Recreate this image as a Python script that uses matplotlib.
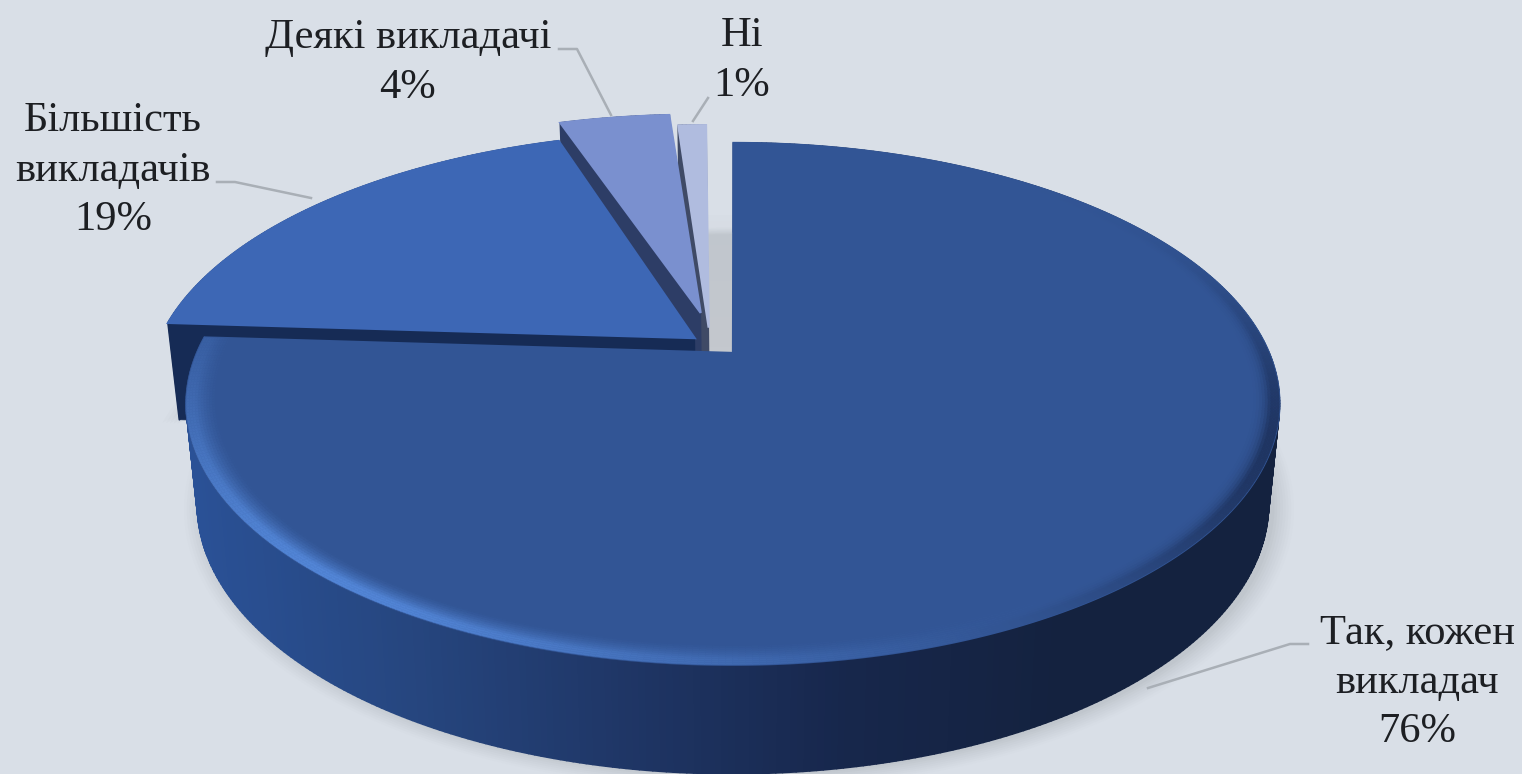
import numpy as np
import matplotlib
matplotlib.use("Agg")
import matplotlib.pyplot as plt
from matplotlib.collections import PolyCollection
from matplotlib.colors import LinearSegmentedColormap, to_rgb

# Дані діаграми
categories = ["Так, кожен\nвикладач", "Більшість\nвикладачів", "Деякі викладачі", "Ні"]
values = [76, 19, 4, 1]

# вигляд секторів
top_colors = ["#325595", "#3d67b5", "#7a90cf", "#b0bcdf"]
side_colors = ["#1f3768", "#162b55", "#2d3d66", "#3f4a66"]
offsets = [(-0.0056, 0.0), (-0.087, 0.06), (-0.09, 0.165), (-0.068, 0.103)]
apexes = [(-0.0056, 0.0), (-0.078, 0.06), (-0.068, 0.165), (-0.052, 0.103)]
label_pos = [(1417, 633), (113, 121), (408, 38), (742, 36)]
leaders = [
    [(1148, 688), (1290, 644), (1308, 644)],
    [(217, 182), (235, 182), (311, 198)],
    [(559, 49), (577, 49), (611, 115)],
    [(708, 98), (693, 121)],
]

BG = "#d9dfe7"
CX, CY, RX, B, K = 736, 353, 536, 251, 0.195
D, KD = 98, 0.10

rim_cmap = LinearSegmentedColormap.from_list(
    "rim", ["#2a5196", "#26467f", "#1f3666", "#17274c", "#14223f", "#14223f"])


def project(u, v, z=0.0):
    w = 1 + K * v
    s = 1 - 0.02 * z
    x = CX + s * RX * u / w
    y = CY - B * v / w + z * D / (1 + KD * v)
    return x, y


def arc(f0, f1, off, r=1.0, n=None):
    n = n or max(int((f1 - f0) * 600), 8)
    t = 2 * np.pi * np.linspace(f0, f1, n)
    return r * np.sin(t) + off[0], r * np.cos(t) + off[1]


fig = plt.figure(figsize=(15.22, 7.74), dpi=100, facecolor=BG)
ax = fig.add_axes([0, 0, 1, 1])
ax.set_xlim(0, 1522)
ax.set_ylim(774, 0)
ax.axis("off")

fracs = np.cumsum([0] + values) / sum(values)

# м'яка тінь під діаграмою
u, v = arc(0, 1, (0, 0), n=240)
for grow, alpha in zip(np.linspace(1.035, 1.0, 8), np.linspace(0.02, 0.06, 8)):
    sx, sy = project(u * grow, v * grow, 1.0)
    ax.fill(sx + 3, sy + 2, color="#8c9299", alpha=alpha, lw=0, zorder=1)
u, v = arc(fracs[1], fracs[2], offsets[1])
for grow, alpha in zip(np.linspace(1.03, 1.0, 5), np.linspace(0.03, 0.07, 5)):
    sx, sy = project(u * grow + offsets[1][0] * (1 - grow), v * grow, 1.0)
    ax.fill(sx - 2, sy + 4, color="#8c9299", alpha=alpha, lw=0, zorder=1)

# сіра тінь у проміжку біля центру
for yy, alpha in zip(np.arange(215, 353, 6), np.linspace(0.05, 1, 23)):
    ax.fill_between([703, 736], yy, yy + 6, color="#c4c8ce", alpha=alpha, lw=0, zorder=1)

# сектори малюємо від заднього до переднього
z = 2
for i in [3, 2, 1, 0]:
    f0, f1 = fracs[i], fracs[i + 1]
    off = offsets[i]
    apex = apexes[i]
    u, v = arc(f0, f1, off)

    # бічні радіальні грані
    for fr in (f0, f1):
        eu, ev = arc(fr, fr, off, n=2)
        x0, y0 = project(np.array([apex[0], eu[0]]), np.array([apex[1], ev[0]]))
        x1, y1 = project(np.array([eu[0], apex[0]]), np.array([ev[0], apex[1]]), 1.0)
        ax.fill(np.r_[x0, x1], np.r_[y0, y1], color=side_colors[i], lw=0.5, zorder=z)

    # зовнішня стінка
    xt, yt = project(u, v)
    xb, yb = project(u, v, 1.0)
    quads = [[(xt[j], yt[j]), (xt[j + 1], yt[j + 1]), (xb[j + 1], yb[j + 1]), (xb[j], yb[j])]
             for j in range(len(u) - 1)]
    if i == 0:
        cols = [rim_cmap(np.clip((xt[j] - 190) / 1093, 0, 1)) for j in range(len(u) - 1)]
    else:
        cols = [side_colors[i]] * len(quads)
    ax.add_collection(PolyCollection(quads, facecolors=cols, edgecolors="face",
                                     linewidths=1.3, zorder=z))

    # верхня грань
    px, py = project(np.r_[apex[0], u], np.r_[apex[1], v])
    ax.fill(px, py, color=top_colors[i], lw=1.6, zorder=z + 1)
    z += 3

# світлий скіс по краю великого сектора
top = np.array(to_rgb(top_colors[0]))
hi = np.array(to_rgb("#5285d6"))
dark = np.array(to_rgb("#17274c"))
rings = np.linspace(0.945, 1.0, 12)
ff = np.linspace(fracs[0], fracs[1], 460)
quads, cols = [], []
for r0, r1 in zip(rings[:-1], rings[1:]):
    g = np.clip((0.5 * (r0 + r1) - 0.945) / 0.04, 0, 1)
    for a, b in zip(ff[:-1], ff[1:]):
        m = 0.5 * (a + b)
        t0 = 2 * np.pi * np.array([a, b])
        x0, y0 = project(r0 * np.sin(t0) + offsets[0][0], r0 * np.cos(t0))
        x1, y1 = project(r1 * np.sin(t0) + offsets[0][0], r1 * np.cos(t0))
        quads.append([(x0[0], y0[0]), (x0[1], y0[1]), (x1[1], y1[1]), (x1[0], y1[0])])
        h = np.exp(-((m - 0.61) / 0.12) ** 2) * g ** 1.5
        d = np.exp(-((m - 0.31) / 0.09) ** 2) * g ** 3 * 0.7
        cols.append(np.clip(top + (hi - top) * h + (dark - top) * d, 0, 1))
ax.add_collection(PolyCollection(quads, facecolors=cols, edgecolors="face",
                                 linewidths=0.3, zorder=z))
z += 1

# виноски
for pts in leaders:
    ax.plot(*zip(*pts), color="#a9afb6", lw=1.8, solid_joinstyle="round", zorder=z)

# підписи
for name, val, (lx, ly) in zip(categories, values, label_pos):
    lines = name.split("\n") + [f"{val}%"]
    for k, line in enumerate(lines):
        ax.text(lx, ly + k * 49.5, line, family="Liberation Serif", fontsize=30.6,
                color="#1d1f23", ha="center", va="center", zorder=z + 1)

fig.savefig("out.png", dpi=100, facecolor=BG)
plt.close()
